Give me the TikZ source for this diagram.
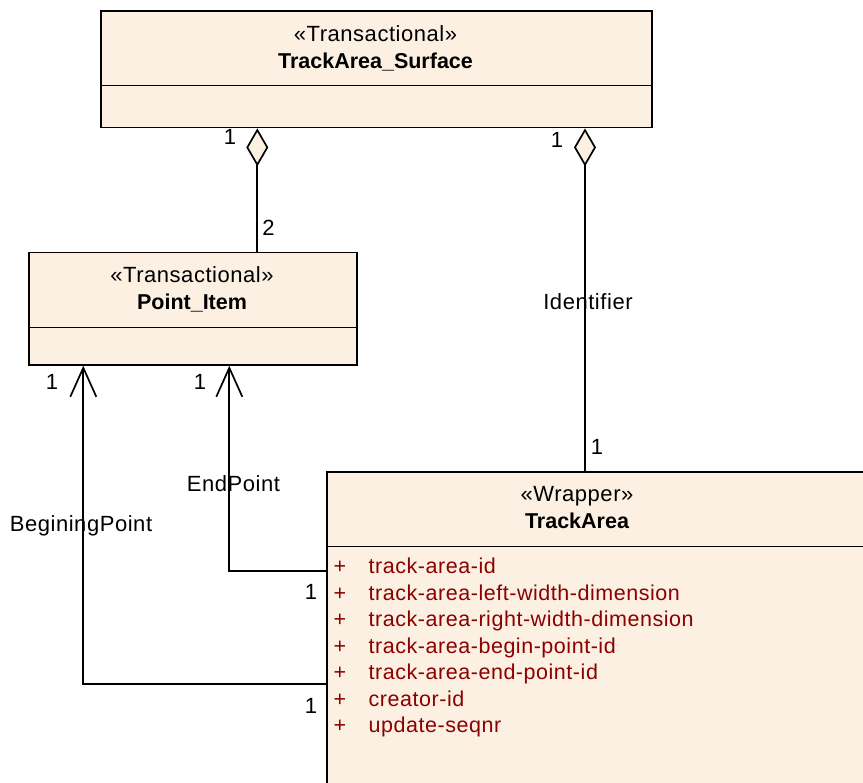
\documentclass[tikz,border=0pt]{standalone}
\usepackage{fontspec}
\setmainfont{Liberation Sans}
\newfontfamily\spacedfont{Liberation Sans}[LetterSpace=2.5]
\usetikzlibrary{positioning, arrows.meta}

\definecolor{classfill}{RGB}{251,240,226}
\definecolor{attrred}{RGB}{140,0,0}

\tikzset{
    classbox/.style={draw, line width=1.7pt, fill=classfill, inner sep=0pt, anchor=north west},
    divider/.style={line width=1.5pt},
    txt/.style={inner sep=0pt, text height=16pt, text depth=4.5pt},
    stereo/.style={txt, font=\fontsize{22}{26}\spacedfont},
    cname/.style={txt, font=\fontsize{21.5}{26}\selectfont\bfseries},
    attr/.style={txt, font=\fontsize{21.5}{26}\spacedfont, text=attrred},
    mult/.style={txt, font=\fontsize{22}{26}\selectfont},
    rolelbl/.style={txt, font=\fontsize{22}{26}\spacedfont},
    aggr/.style={line width=1.7pt, {Diamond[length=38pt, width=22pt, fill=classfill]}-},
    navarrow/.style={line width=1.7pt, -{Straight Barb[length=29pt, width=26pt]}}
}

\begin{document}
\begin{tikzpicture}[x=1pt, y=-1pt]
    \useasboundingbox (0,0) rectangle (863,783);
    \clip (0,0) rectangle (863,783);

    % classes
    \node[classbox, minimum width=551pt, minimum height=116.7pt] (surface) at (100,10) {};
    \draw[divider] ([yshift=-75.7pt]surface.north west) -- ([yshift=-75.7pt]surface.north east);
    \node[stereo] (surfaceSt) at (375.5,36) {«Transactional»};
    \node[cname] (surfaceNm) at (375.5,62.5) {TrackArea\_Surface};

    \node[classbox, minimum width=328pt, minimum height=112.3pt] (pointitem) at (28,251.7) {};
    \draw[divider] ([yshift=-76pt]pointitem.north west) -- ([yshift=-76pt]pointitem.north east);
    \node[stereo] (pointitemSt) at (192,277) {«Transactional»};
    \node[cname] (pointitemNm) at (192,304) {Point\_Item};

    \node[classbox, minimum width=600pt, minimum height=400pt] (trackarea) at (326,471) {};
    \draw[divider] ([yshift=-75.7pt]trackarea.north west) -- ([yshift=-75.7pt]trackarea.north east);
    \node[stereo] (trackareaSt) at (577,496) {«Wrapper»};
    \node[cname] (trackareaNm) at (577,522.5) {TrackArea};

    % attributes
    \foreach \attrname [count=\i] in {track-area-id, track-area-left-width-dimension,
        track-area-right-width-dimension, track-area-begin-point-id,
        track-area-end-point-id, creator-id, update-seqnr} {
        \node[attr] (plus\i) at (340, {568+26.5*(\i-1)}) {+};
        \node[attr, anchor=west] (attr\i) at (368.5, {568+26.5*(\i-1)}) {\attrname};
    }

    % aggregations
    \draw[aggr] ([xshift=157.3pt]surface.south west) -- ([xshift=229.3pt]pointitem.north west);
    \draw[aggr] ([xshift=485pt]surface.south west) -- ([xshift=259pt]trackarea.north west);

    % navigable associations
    \draw[navarrow] ([yshift=-100pt]trackarea.north west) -| ([xshift=201.3pt]pointitem.south west);
    \draw[navarrow] ([yshift=-213pt]trackarea.north west) -| ([xshift=55.3pt]pointitem.south west);

    % multiplicities and roles
    \node[mult] (mSurfL) at (230,139) {1};
    \node[mult] (mPoint) at (268.5,230) {2};
    \node[mult] (mSurfR) at (557,142) {1};
    \node[mult] (mArea) at (597,449) {1};
    \node[mult] (mBegin) at (52,384) {1};
    \node[mult] (mEnd) at (200,384) {1};
    \node[mult] (mEndSrc) at (311,594) {1};
    \node[mult] (mBeginSrc) at (311,708) {1};
    \node[rolelbl] (roleId) at (588,304) {Identifier};
    \node[rolelbl] (roleEnd) at (233.5,486) {EndPoint};
    \node[rolelbl] (roleBegin) at (81,526) {BeginingPoint};
\end{tikzpicture}
\end{document}
